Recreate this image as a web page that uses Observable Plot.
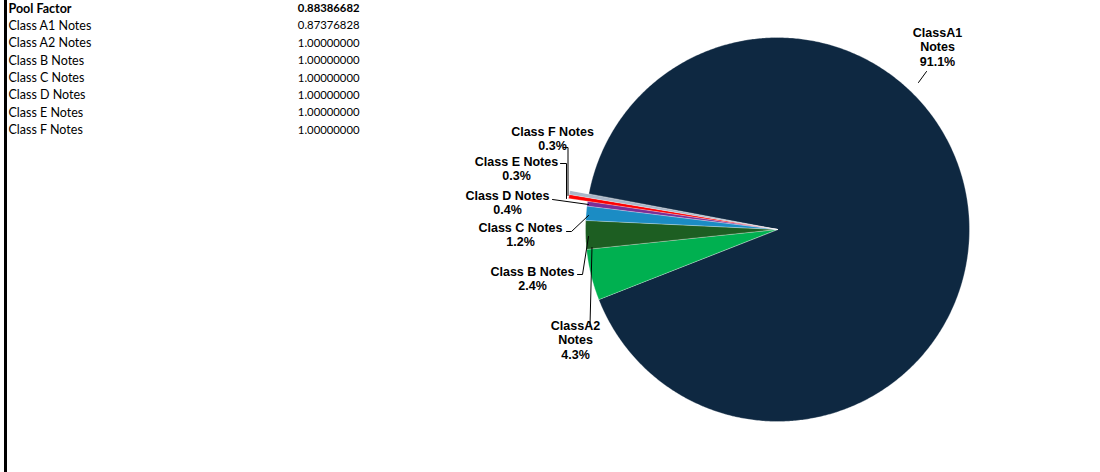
<!DOCTYPE html>
<html>
<head>
<meta charset="utf-8">
<script src="https://cdn.jsdelivr.net/npm/d3@7"></script>
<script src="https://cdn.jsdelivr.net/npm/@observablehq/plot@0.6"></script>
<style>
  html, body { margin: 0; padding: 0; background: #fff; }
  #wrap { position: relative; width: 1100px; height: 472px; }
  #bar { position: absolute; left: 4px; top: 0; width: 3px; height: 472px; background: #000; }
  #chart { position: absolute; left: 0; top: 0; }
</style>
</head>
<body>
<div id="wrap"><div id="chart"></div><div id="bar"></div></div>
<script>
// ---- data ----
const tableLabels = ["Pool Factor", "Class A1 Notes", "Class A2 Notes", "Class B Notes", "Class C Notes", "Class D Notes", "Class E Notes", "Class F Notes"];
const tableValues = ["0.88386682", "0.87376828", "1.00000000", "1.00000000", "1.00000000", "1.00000000", "1.00000000", "1.00000000"];

const classes = ["ClassA1 Notes", "ClassA2 Notes", "Class B Notes", "Class C Notes", "Class D Notes", "Class E Notes", "Class F Notes"];
const shares = [91.1, 4.3, 2.4, 1.2, 0.4, 0.3, 0.3];
const colors = ["#0e2841", "#00b050", "#1d5e22", "#1b8cc4", "#7a2e96", "#ff0000", "#aab7c8"];

// ---- layout (not data) ----
const W = 1100, H = 472;
const cx = 777, cy = 229, R = 192;
const firstSliceAngle = 280.6; // degrees clockwise from 12 o'clock
const radiusScale = [1, 1, 1, 1, 1, 1.1, 1.1];
const labelLayout = [
  {lx: 937, ly: 46, wrap: true,  leader: [[918, 82], [926, 71]]},
  {lx: 575, ly: 339, wrap: true, leader: [[591.5, 247], [589.5, 325]]},
  {lx: 532, ly: 278, wrap: false, leader: [[577, 274], [582, 274], [588, 236]]},
  {lx: 520, ly: 234, wrap: false, leader: [[566, 231], [571, 231], [588, 215]]},
  {lx: 507, ly: 202, wrap: false, leader: [[552, 199], [588, 204]]},
  {lx: 516, ly: 168, wrap: false, leader: [[560, 163], [566, 163], [566, 198]]},
  {lx: 552, ly: 138, wrap: false, leader: [[563, 147], [567.5, 147], [567.5, 195]]}
];

// ---- pie geometry from values ----
const rad = d => d * Math.PI / 180;
const pie = d3.pie().sort(null).value(d => d)
  .startAngle(rad(firstSliceAngle)).endAngle(rad(firstSliceAngle) + 2 * Math.PI);
const arcs = pie(shares);

const slicePts = [];
arcs.forEach((a, i) => {
  const r = R * radiusScale[i];
  slicePts.push({k: i, x: cx, y: cy});
  const n = Math.max(2, Math.ceil((a.endAngle - a.startAngle) / rad(0.5)));
  for (let j = 0; j <= n; j++) {
    const t = a.startAngle + (a.endAngle - a.startAngle) * j / n;
    slicePts.push({k: i, x: cx + r * Math.sin(t), y: cy - r * Math.cos(t)});
  }
});

const labels = classes.map((c, i) => {
  const L = labelLayout[i];
  const name = L.wrap ? c.replace(" ", "\n") : c;
  return {x: L.lx, y: L.ly, text: `${name}\n${shares[i].toFixed(1)}%`};
});
const leaders = labelLayout.flatMap((L, i) => L.leader.map(([x, y]) => ({k: i, x, y})));

const tableRows = tableLabels.map((t, i) => ({label: t, value: tableValues[i], row: i}));
const rowY = i => 8 + i * 17.35;
const headRows = tableRows.filter(d => d.row === 0);
const bodyRows = tableRows.filter(d => d.row > 0);
const tableFont = "Lato, sans-serif";

const marks = [
  ...arcs.map((a, i) => Plot.line(slicePts.filter(p => p.k === i), {
    x: "x", y: "y", curve: "linear-closed", fill: colors[i], stroke: "#ffffff", strokeWidth: 0.5, strokeOpacity: 0.6
  })),
  Plot.line(leaders, {x: "x", y: "y", z: "k", stroke: "#000", strokeWidth: 1}),
  Plot.text(labels, {
    x: "x", y: "y", text: "text", textAnchor: "middle", lineAnchor: "middle", lineHeight: 1.17,
    fontFamily: "Liberation Sans, Arial, sans-serif", fontWeight: "bold", fontSize: 12.5, fill: "#000"
  }),
  Plot.text(headRows, {
    x: 8, y: d => rowY(d.row), text: "label", textAnchor: "start", lineAnchor: "middle",
    fontFamily: tableFont, fontSize: 12.5, fontWeight: "bold", fill: "#000"
  }),
  Plot.text(headRows, {
    x: 359, y: d => rowY(d.row), text: "value", textAnchor: "end", lineAnchor: "middle",
    fontFamily: tableFont, fontSize: 11.3, fontWeight: "bold", fill: "#000"
  }),
  Plot.text(bodyRows, {
    x: 8, y: d => rowY(d.row), text: "label", textAnchor: "start", lineAnchor: "middle",
    fontFamily: tableFont, fontSize: 12.5, fill: "#000"
  }),
  Plot.text(bodyRows, {
    x: 359, y: d => rowY(d.row), text: "value", textAnchor: "end", lineAnchor: "middle",
    fontFamily: tableFont, fontSize: 11.3, fill: "#000"
  })
];

const chart = Plot.plot({
  width: W, height: H,
  margin: 0,
  x: {type: "linear", domain: [0, W], range: [0, W], axis: null},
  y: {type: "linear", domain: [0, H], range: [0, H], axis: null},
  style: {background: "transparent", overflow: "visible"},
  marks
});
document.getElementById("chart").appendChild(chart);
</script>
</body>
</html>
